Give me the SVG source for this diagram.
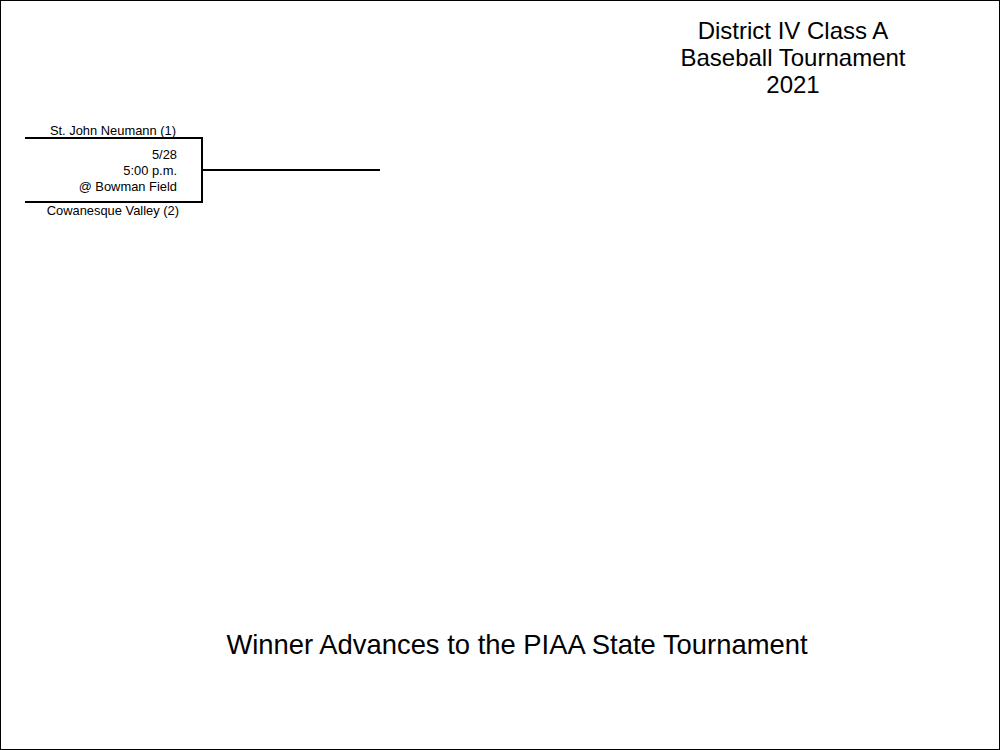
<svg xmlns="http://www.w3.org/2000/svg" width="1000" height="750" viewBox="0 0 1000 750">
<style>
text{font-family:"Liberation Sans",Arial,sans-serif;fill:#000}
.s{font-size:12.9px}
.t{font-size:24px;text-anchor:middle}
.f{font-size:27.4px;text-anchor:middle}
line,path{stroke:#000;stroke-width:2;fill:none}
</style>
<rect x="0.5" y="0.5" width="999" height="749" fill="#fff" stroke="#000"/>
<g id="title"><text class="t" x="793" y="39">District IV Class A</text><text class="t" x="793" y="66">Baseball Tournament</text><text class="t" x="793" y="93">2021</text></g>
<g id="team1"><text class="s" x="176" y="135" text-anchor="end">St. John Neumann (1)</text></g>
<g id="team2"><text class="s" x="179" y="215" text-anchor="end">Cowanesque Valley (2)</text></g>
<g id="game"><text class="s" x="177" y="159" text-anchor="end">5/28</text><text class="s" x="177" y="175" text-anchor="end">5:00 p.m.</text><text class="s" x="177" y="191" text-anchor="end">@ Bowman Field</text></g>
<g id="connectors"><path d="M25 138H202V202H25"/><line x1="202" y1="170" x2="380" y2="170"/></g>
<g id="footer"><text class="f" x="517" y="654">Winner Advances to the PIAA State Tournament</text></g>
</svg>
